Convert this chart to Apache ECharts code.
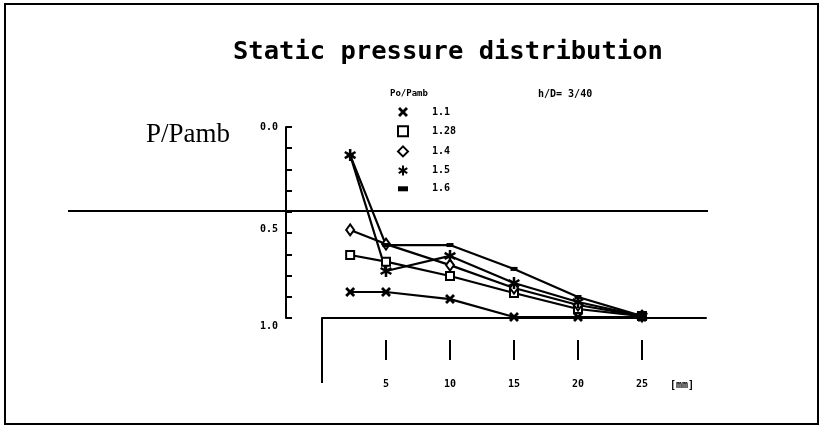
<!DOCTYPE html>
<html>
<head>
<meta charset="utf-8">
<script src="https://cdn.jsdelivr.net/npm/echarts@6/dist/echarts.min.js"></script>
<style>html,body{margin:0;padding:0;background:#fff}#c{width:823px;height:426px}</style>
</head>
<body>
<div id="c"></div>
<script>
// ---- data ----
var xPositions = [2.2, 5, 10, 15, 20, 25];            // distance [mm]
var seriesNames = ['1.1', '1.28', '1.4', '1.5', '1.6'];  // Po/Pamb
var p11  = [0.864, 0.864, 0.901, 0.995, 0.995, 0.995];
var p128 = [0.670, 0.705, 0.780, 0.869, 0.953, 0.990];
var p14  = [0.539, 0.613, 0.723, 0.843, 0.932, 0.990];
var p15  = [0.147, 0.754, 0.675, 0.817, 0.916, 0.990];
var p16  = [0.147, 0.618, 0.618, 0.743, 0.890, 0.990];
var xTickValues = [5, 10, 15, 20, 25];
var yTickLabels = {0: '{a|0.0}', 5: '{b|0.5}', 9: '{c|1.0}'};
var scanLineValue = 0.44;

var mono = '"DejaVu Sans Mono", monospace';
var symX = 'path://M0,2 L2,0 L5,3 L8,0 L10,2 L7,5 L10,8 L8,10 L5,7 L2,10 L0,8 L3,5 Z';
var symStar = 'path://M4,0 H6 V10 H4 Z M0.2,3.3 L1.2,1.6 L9.8,6.7 L8.8,8.4 Z M0.2,6.7 L8.8,1.6 L9.8,3.3 L1.2,8.4 Z';
var symDash = 'path://M0,0 H10 V5 H0 Z';

function pairs(vals) { return xPositions.map(function (x, i) { return [x, vals[i]]; }); }

var defs = [
  {name: seriesNames[0], data: p11, symbol: symX, size: 10, fill: '#000'},
  {name: seriesNames[1], data: p128, symbol: 'rect', size: 8, fill: '#fff'},
  {name: seriesNames[2], data: p14, symbol: 'diamond', size: [8, 11], fill: '#fff'},
  {name: seriesNames[3], data: p15, symbol: symStar, size: 12, fill: '#000'},
  {name: seriesNames[4], data: p16, symbol: symDash, size: [7, 4], fill: '#000'}
];

var series = defs.map(function (d) {
  return {
    name: d.name, type: 'line', xAxisIndex: 0, yAxisIndex: 0,
    data: pairs(d.data), symbol: d.symbol, symbolSize: d.size,
    showSymbol: true, animation: false,
    lineStyle: {color: '#000', width: 2.2},
    itemStyle: {color: d.fill, borderColor: '#000', borderWidth: d.fill === '#fff' ? 2 : 0}
  };
});

var labelRich = {
  a: {fontFamily: mono, fontSize: 10, fontWeight: 'bold', color: '#000'},
  b: {fontFamily: mono, fontSize: 10, fontWeight: 'bold', color: '#000', padding: [0, 0, 8, 0]},
  c: {fontFamily: mono, fontSize: 10, fontWeight: 'bold', color: '#000', padding: [16, 0, 0, 0]}
};

var chart = echarts.init(document.getElementById('c'), null, {renderer: 'canvas'});
chart.setOption({
  backgroundColor: '#fff',
  animation: false,
  title: [
    {text: 'Static pressure distribution', left: 228, top: 34,
     textStyle: {fontFamily: mono, fontSize: 25.5, fontWeight: 'bold', color: '#000'}},
    {text: 'P/Pamb', left: 141, top: 116,
     textStyle: {fontFamily: '"Liberation Serif", serif', fontSize: 27, fontWeight: 'normal', color: '#000'}},
    {text: 'Po/Pamb', left: 385, top: 84,
     textStyle: {fontFamily: mono, fontSize: 9, fontWeight: 'bold', color: '#000'}},
    {text: 'h/D= 3/40', left: 533, top: 84,
     textStyle: {fontFamily: mono, fontSize: 10, fontWeight: 'bold', color: '#000'}},
    {text: '[mm]', left: 665, top: 375,
     textStyle: {fontFamily: mono, fontSize: 10, fontWeight: 'bold', color: '#000'}}
  ],
  legend: {
    orient: 'vertical', left: 392, top: 102, itemGap: 8.2,
    itemWidth: 10, itemHeight: 10,
    textStyle: {fontFamily: mono, fontSize: 10, fontWeight: 'bold', color: '#000', padding: [0, 0, 0, 19]},
    data: defs.map(function (d) {
      return {name: d.name, icon: d.symbol,
              itemStyle: {color: d.fill, borderColor: '#000', borderWidth: d.fill === '#fff' ? 2 : 0}};
    }),
    selectedMode: false
  },
  grid: {left: 322, right: 117, top: 127, bottom: 108},
  xAxis: [
    {type: 'value', min: 0, max: 30, position: 'bottom',
     axisLine: {show: true, onZero: false, lineStyle: {color: '#000', width: 2}},
     axisTick: {show: true, customValues: [0], length: 65, lineStyle: {color: '#000', width: 2}},
     axisLabel: {show: false}, splitLine: {show: false}},
    {type: 'value', min: 0, max: 30, position: 'bottom', offset: 22,
     axisLine: {show: false, onZero: false},
     axisTick: {show: true, customValues: xTickValues, length: 20, lineStyle: {color: '#000', width: 2}},
     axisLabel: {show: true, customValues: xTickValues, margin: 39,
                 fontFamily: mono, fontSize: 10, fontWeight: 'bold', color: '#000'},
     splitLine: {show: false}}
  ],
  yAxis: [
    {type: 'value', min: 0, max: 1, inverse: true, show: false},
    {type: 'value', min: 0, max: 9, interval: 1, inverse: true, position: 'left', offset: 36,
     axisLine: {show: true, onZero: false, lineStyle: {color: '#000', width: 2}},
     axisTick: {show: true, inside: true, length: 6, lineStyle: {color: '#000', width: 2}},
     axisLabel: {show: true, margin: 8, rich: labelRich,
                 formatter: function (v) { return yTickLabels[v] || ''; }},
     splitLine: {show: false}}
  ],
  series: series
});

var yLine = chart.convertToPixel({yAxisIndex: 0}, scanLineValue);
chart.setOption({
  graphic: [
    {type: 'rect', shape: {x: 5, y: 4, width: 813, height: 420},
     style: {fill: 'none', stroke: '#000', lineWidth: 2}, silent: true},
    {type: 'line', shape: {x1: 68, y1: yLine, x2: 708, y2: yLine},
     style: {stroke: '#000', lineWidth: 2}, silent: true}
  ]
});
</script>
</body>
</html>
